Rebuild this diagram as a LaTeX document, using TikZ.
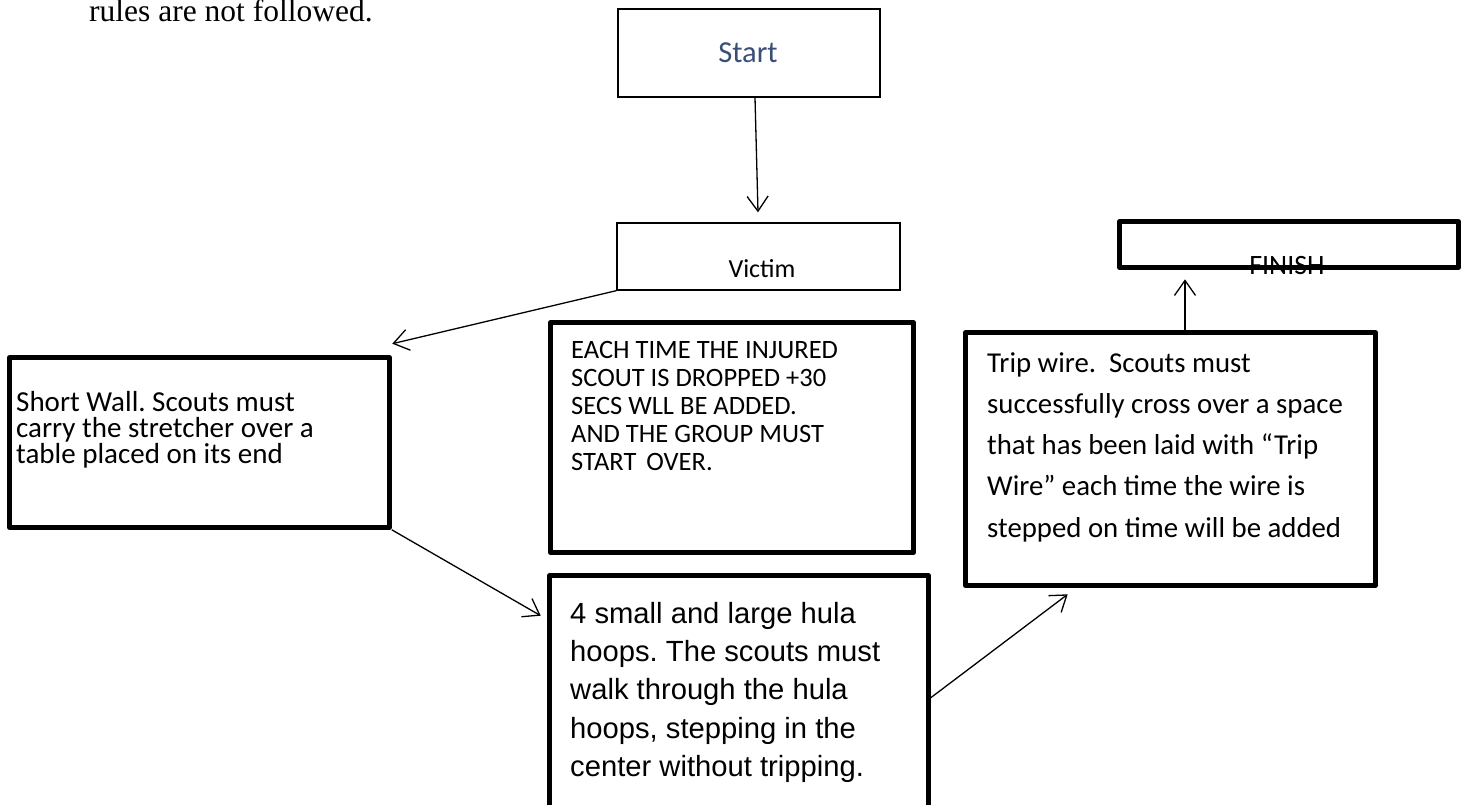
\documentclass[tikz,border=0pt]{standalone}
\usepackage{fontspec}
\setmainfont{Carlito}
\newfontfamily\arialf{Liberation Sans}
\newfontfamily\timesf{Liberation Serif}
\usetikzlibrary{arrows.meta,calc}
\definecolor{startblue}{HTML}{3B4E78}
\newcommand\txtlines[1]{\vtop{\lineskiplimit=-1000pt\relax #1}}
\frenchspacing
\begin{document}
\begin{tikzpicture}[x=1pt,y=-1pt,
  thinbox/.style={draw=black,line width=1.3pt,rectangle,inner sep=0pt},
  thickbox/.style={draw=black,line width=4.6pt,line join=round,rectangle,inner sep=0pt},
  txt/.style={inner sep=0pt,anchor=base west,text=black},
  ctxt/.style={inner sep=0pt,anchor=base},
  conn/.style={draw=black,line width=1.3pt,-{Straight Barb[length=15pt,width=21pt,line width=1.3pt]}}
]
\useasboundingbox (0,0) rectangle (1473,804);
\clip (0,0) rectangle (1473,804);
\fill[white] (0,0) rectangle (1473,804);

% heading text fragment
\node[txt,font=\timesf\fontsize{31.5}{36}\selectfont] (rules) at (89,21) {rules are not followed.};

% boxes
\node[thinbox,minimum width=262pt,minimum height=88pt] (start) at (749,53) {};
\node[thinbox,minimum width=283pt,minimum height=67pt] (victim) at (758.5,256.5) {};
\node[thickbox,minimum width=339pt,minimum height=46pt] (finish) at (1289,244.5) {};
\node[thickbox,minimum width=380pt,minimum height=170pt] (wall) at (199.5,442.5) {};
\node[thickbox,minimum width=363pt,minimum height=230pt] (each) at (732,437.5) {};
\node[thickbox,minimum width=379pt,minimum height=240pt] (hula) at (739,695.5) {};
\node[thickbox,minimum width=410pt,minimum height=253pt] (trip) at (1170.5,459) {};

% texts
\node[ctxt,text=startblue,font=\fontsize{30.5}{36}\selectfont] (startt) at (748,62) {Start};
\node[ctxt,font=\fontsize{26}{30}\selectfont] (victimt) at (762,277) {Victim};
\node[ctxt,font=\fontsize{28}{32}\selectfont] (finisht) at (1287,274) {FINISH};

\node[txt,font=\fontsize{29}{26}\selectfont] (wallt) at (16,411)
  {\txtlines{\hbox{Short Wall. Scouts must}\hbox{carry the stretcher over a}\hbox{table placed on its end}}};
\node[txt,font=\fontsize{26.5}{28}\selectfont] (eacht) at (571,358)
  {\txtlines{\hbox{EACH TIME THE INJURED}\hbox{SCOUT IS DROPPED +30}\hbox{SECS WLL BE ADDED.}\hbox{AND THE GROUP MUST}\hbox{START\hspace{0.15em} OVER.}}};
\node[txt,font=\fontsize{28.8}{41.3}\selectfont] (tript) at (987,372)
  {\txtlines{\hbox{Trip wire.\ \ Scouts must}\hbox{successfully cross over a space}\hbox{that has been laid with “Trip}\hbox{Wire” each time the wire is}\hbox{stepped on time will be added}}};
\node[txt,font=\arialf\fontsize{29.2}{38.4}\selectfont] (hulat) at (570,623)
  {\txtlines{\hbox{4 small and large hula}\hbox{hoops. The scouts must}\hbox{walk through the hula}\hbox{hoops, stepping in the}\hbox{center without tripping.}}};

% connectors
\draw[conn] ($(start.south)+(6,0)$) -- ($(victim.north)+(-0.5,-10)$);
\draw[conn] (victim.south west) -- ($(wall.north east)+(0.5,-11.5)$);
\draw[conn] (wall.south east) -- ($(hula.north west)+(-6.5,42.5)$);
\draw[conn] ($(hula.north east)+(0,124.5)$) -- ($(trip.south west)+(104.5,6.5)$);
\draw[conn] ($(trip.north)+(14.5,0)$) -- ($(finish.south)+(-104,9.5)$);
\end{tikzpicture}
\end{document}
